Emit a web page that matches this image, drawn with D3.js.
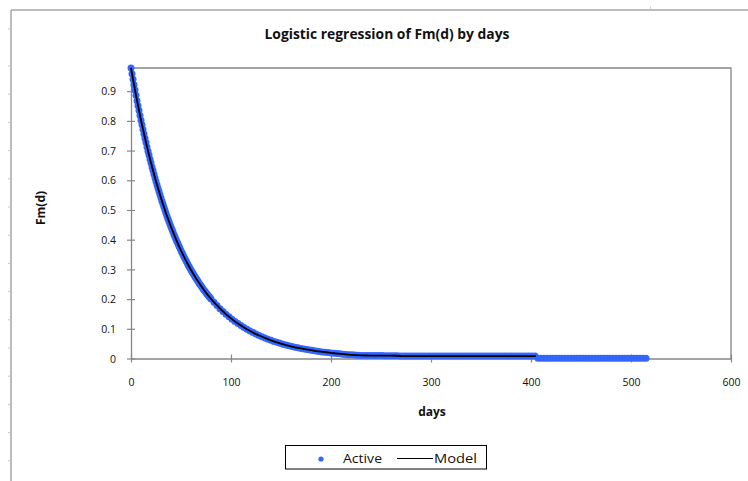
<!DOCTYPE html>
<html>
<head>
<meta charset="utf-8">
<script src="https://cdn.jsdelivr.net/npm/d3@7"></script>
<style>
  html, body { margin: 0; padding: 0; background: #fff; }
  svg { display: block; font-family: "Open Sans", Lato, sans-serif; }
</style>
</head>
<body>
<svg id="chart" width="748" height="481"></svg>
<script>
// Fm(d) observations ("Active"), daily for days 0-79
const activeEarly = [
  0.978,0.959,0.940,0.922,0.904,0.886,0.868,0.851,0.835,0.818,
  0.802,0.787,0.771,0.756,0.741,0.727,0.712,0.698,0.685,0.671,
  0.658,0.645,0.633,0.620,0.608,0.596,0.584,0.573,0.562,0.551,
  0.540,0.529,0.519,0.509,0.499,0.489,0.479,0.470,0.461,0.452,
  0.443,0.434,0.426,0.417,0.409,0.401,0.393,0.386,0.378,0.371,
  0.363,0.356,0.349,0.342,0.336,0.329,0.323,0.316,0.310,0.304,
  0.298,0.292,0.287,0.281,0.275,0.270,0.265,0.260,0.254,0.249,
  0.245,0.240,0.235,0.230,0.226,0.221,0.217,0.213,0.209,0.205
];
const activeEarlyStart = 0, activeEarlyStep = 1;

// Fm(d) observations, every 3rd day from day 80 to day 515
const activeLate = [
  0.2006,0.1890,0.1781,0.1679,0.1582,0.1491,0.1405,0.1324,0.1248,0.1176,
  0.1108,0.1044,0.0984,0.0927,0.0874,0.0823,0.0776,0.0731,0.0689,0.0649,
  0.0611,0.0576,0.0543,0.0512,0.0482,0.0454,0.0428,0.0403,0.0380,0.0358,
  0.0338,0.0318,0.0300,0.0282,0.0266,0.0251,0.0236,0.0223,0.0210,0.0198,
  0.0186,0.0176,0.0166,0.0156,0.0147,0.0138,0.0130,0.0123,0.0116,0.0109,
  0.0103,0.0101,0.0100,0.0100,0.0099,0.0098,0.0098,0.0097,0.0096,0.0096,
  0.0095,0.0093,0.0090,0.0085,0.0083,0.0082,0.0082,0.0082,0.0081,0.0081,
  0.0081,0.0081,0.0081,0.0081,0.0081,0.0081,0.0080,0.0080,0.0080,0.0080,
  0.0080,0.0080,0.0080,0.0080,0.0080,0.0080,0.0080,0.0080,0.0080,0.0080,
  0.0080,0.0080,0.0080,0.0080,0.0080,0.0080,0.0080,0.0080,0.0080,0.0080,
  0.0080,0.0080,0.0080,0.0080,0.0080,0.0080,0.0080,0.0080,0.0080,0.0005,
  0.0005,0.0005,0.0005,0.0005,0.0005,0.0005,0.0005,0.0005,0.0005,0.0005,
  0.0005,0.0005,0.0005,0.0005,0.0005,0.0005,0.0005,0.0005,0.0005,0.0005,
  0.0005,0.0005,0.0005,0.0005,0.0005,0.0005,0.0005,0.0005,0.0005,0.0005,
  0.0005,0.0005,0.0005,0.0005,0.0005,0.0005
];
const activeLateStart = 80, activeLateStep = 3;

// Fitted model, every 5th day from day 0 to day 405
const modelValues = [
  0.978,0.886,0.802,0.727,0.658,0.596,0.540,0.489,0.443,0.401,
  0.363,0.329,0.298,0.270,0.245,0.221,0.201,0.182,0.165,0.149,
  0.135,0.122,0.111,0.100,0.091,0.082,0.075,0.068,0.061,0.055,
  0.050,0.045,0.041,0.037,0.034,0.031,0.028,0.025,0.023,0.021,
  0.0186,0.0169,0.0153,0.0138,0.0125,0.0114,0.0103,0.0101,0.0100,0.0098,
  0.0097,0.0096,0.0095,0.0092,0.0084,0.0081,0.0081,0.0081,0.0081,0.0081,
  0.0080,0.0080,0.0080,0.0080,0.0080,0.0080,0.0080,0.0080,0.0080,0.0080,
  0.0080,0.0080,0.0080,0.0080,0.0080,0.0080,0.0080,0.0080,0.0080,0.0080,
  0.0080,0.0080
];
const modelStart = 0, modelStep = 5;

// Axis settings and labels
const xDomain = [0, 600];
const yDomain = [0, 0.978];
const xTicks = [0, 100, 200, 300, 400, 500, 600];
const yTicks = [0, 0.1, 0.2, 0.3, 0.4, 0.5, 0.6, 0.7, 0.8, 0.9];
const titleText = "Logistic regression of Fm(d) by days";
const xTitle = "days";
const yTitle = "Fm(d)";
const seriesNames = ["Active", "Model"];

const activeColor = "#3366ff";
const axisColor = "#868686";
const textColor = "#111";

const svg = d3.select("#chart");
svg.append("rect").attr("width", 748).attr("height", 481).attr("fill", "#fff");

// Chart-area frame (left and top edges) with small sheet marks
const frame = svg.append("g");
frame.append("line").attr("x1", 11).attr("y1", 10).attr("x2", 11).attr("y2", 481)
  .attr("stroke", "#a6a6a6").attr("stroke-width", 1.5);
frame.append("line").attr("x1", 11).attr("y1", 10).attr("x2", 748).attr("y2", 10)
  .attr("stroke", "#a6a6a6").attr("stroke-width", 1.5);
const rowMarks = [29].concat(d3.range(15).map(i => 66 + i * 28.2));
frame.selectAll("line.mark").data(rowMarks).join("line")
  .attr("class", "mark")
  .attr("x1", 8).attr("x2", 10.5)
  .attr("y1", d => d).attr("y2", d => d)
  .attr("stroke", "#c8c8c8").attr("stroke-width", 1);
frame.append("line").attr("x1", 650.5).attr("x2", 650.5).attr("y1", 6.5).attr("y2", 9.5)
  .attr("stroke", "#c8d0e0").attr("stroke-width", 1);

// Plot area
const plot = { left: 131, right: 731, top: 68, bottom: 358.5 };
const x = d3.scaleLinear().domain(xDomain).range([plot.left, plot.right]);
const y = d3.scaleLinear().domain(yDomain).range([plot.bottom, plot.top]);

// Plot-area border (top and right)
svg.append("path")
  .attr("d", `M${plot.left},${plot.top}H${plot.right}V${plot.bottom}`)
  .attr("fill", "none").attr("stroke", axisColor).attr("stroke-width", 1.3);

// Axes with cross tick marks
const xAxis = d3.axisBottom(x).tickValues(xTicks).tickFormat(d3.format("d"))
  .tickSizeInner(4).tickSizeOuter(0).tickPadding(0);
const gx = svg.append("g").attr("transform", `translate(0,${plot.bottom})`).call(xAxis);
gx.select(".domain").attr("stroke", axisColor).attr("stroke-width", 1.3);
gx.selectAll(".tick line").attr("stroke", axisColor).attr("stroke-width", 1.2)
  .attr("y1", -4).attr("y2", 4);
gx.selectAll(".tick text").attr("dy", 0).attr("y", 27);

const yAxis = d3.axisLeft(y).tickValues(yTicks).tickFormat(d => d === 0 ? "0" : d3.format(".1f")(d))
  .tickSizeInner(4).tickSizeOuter(0).tickPadding(0);
const gy = svg.append("g").attr("transform", `translate(${plot.left},0)`).call(yAxis);
gy.select(".domain").attr("stroke", axisColor).attr("stroke-width", 1.3);
gy.selectAll(".tick line").attr("stroke", axisColor).attr("stroke-width", 1.2)
  .attr("x1", -4).attr("x2", 4);
gy.selectAll(".tick text").attr("x", -15).attr("dy", "0.35em");

svg.selectAll(".tick text")
  .attr("font-family", "'Open Sans', sans-serif")
  .attr("font-size", 10.5)
  .attr("fill", textColor);

// Active observations
const activePoints = activeEarly.map((v, i) => [activeEarlyStart + i * activeEarlyStep, v])
  .concat(activeLate.map((v, i) => [activeLateStart + i * activeLateStep, v]));
svg.append("g").selectAll("circle").data(activePoints).join("circle")
  .attr("cx", d => x(d[0])).attr("cy", d => y(d[1]))
  .attr("r", 3.5).attr("fill", activeColor);

// Model curve
const modelPoints = modelValues.map((v, i) => [modelStart + i * modelStep, v]);
svg.append("path").datum(modelPoints)
  .attr("d", d3.line().x(d => x(d[0])).y(d => y(d[1])))
  .attr("fill", "none").attr("stroke", "#000").attr("stroke-width", 1.8)
  .attr("stroke-linejoin", "round");

// Titles
svg.append("text").attr("x", 387).attr("y", 39).attr("text-anchor", "middle")
  .attr("font-weight", "bold").attr("font-size", 14).attr("fill", textColor)
  .attr("textLength", 245).attr("lengthAdjust", "spacingAndGlyphs").text(titleText);
svg.append("text").attr("x", 432).attr("y", 416).attr("text-anchor", "middle")
  .attr("font-weight", "bold").attr("font-size", 12).attr("fill", textColor).text(xTitle);
svg.append("text").attr("transform", "translate(45,208) rotate(-90)").attr("text-anchor", "middle")
  .attr("font-weight", "bold").attr("font-size", 12).attr("fill", textColor).text(yTitle);

// Legend
const legend = svg.append("g");
legend.append("rect").attr("x", 285.5).attr("y", 445.5).attr("width", 201).attr("height", 23.5)
  .attr("fill", "#fff").attr("stroke", "#000").attr("stroke-width", 1);
legend.append("circle").attr("cx", 321).attr("cy", 459).attr("r", 2.6).attr("fill", activeColor);
legend.append("text").attr("x", 343).attr("y", 463).attr("font-size", 12.5).attr("fill", textColor)
  .attr("textLength", 39).attr("lengthAdjust", "spacingAndGlyphs").text(seriesNames[0]);
legend.append("line").attr("x1", 397).attr("x2", 433).attr("y1", 458.5).attr("y2", 458.5)
  .attr("stroke", "#000").attr("stroke-width", 1.2);
legend.append("text").attr("x", 434).attr("y", 463).attr("font-size", 12.5).attr("fill", textColor)
  .attr("textLength", 43).attr("lengthAdjust", "spacingAndGlyphs").text(seriesNames[1]);
</script>
</body>
</html>
